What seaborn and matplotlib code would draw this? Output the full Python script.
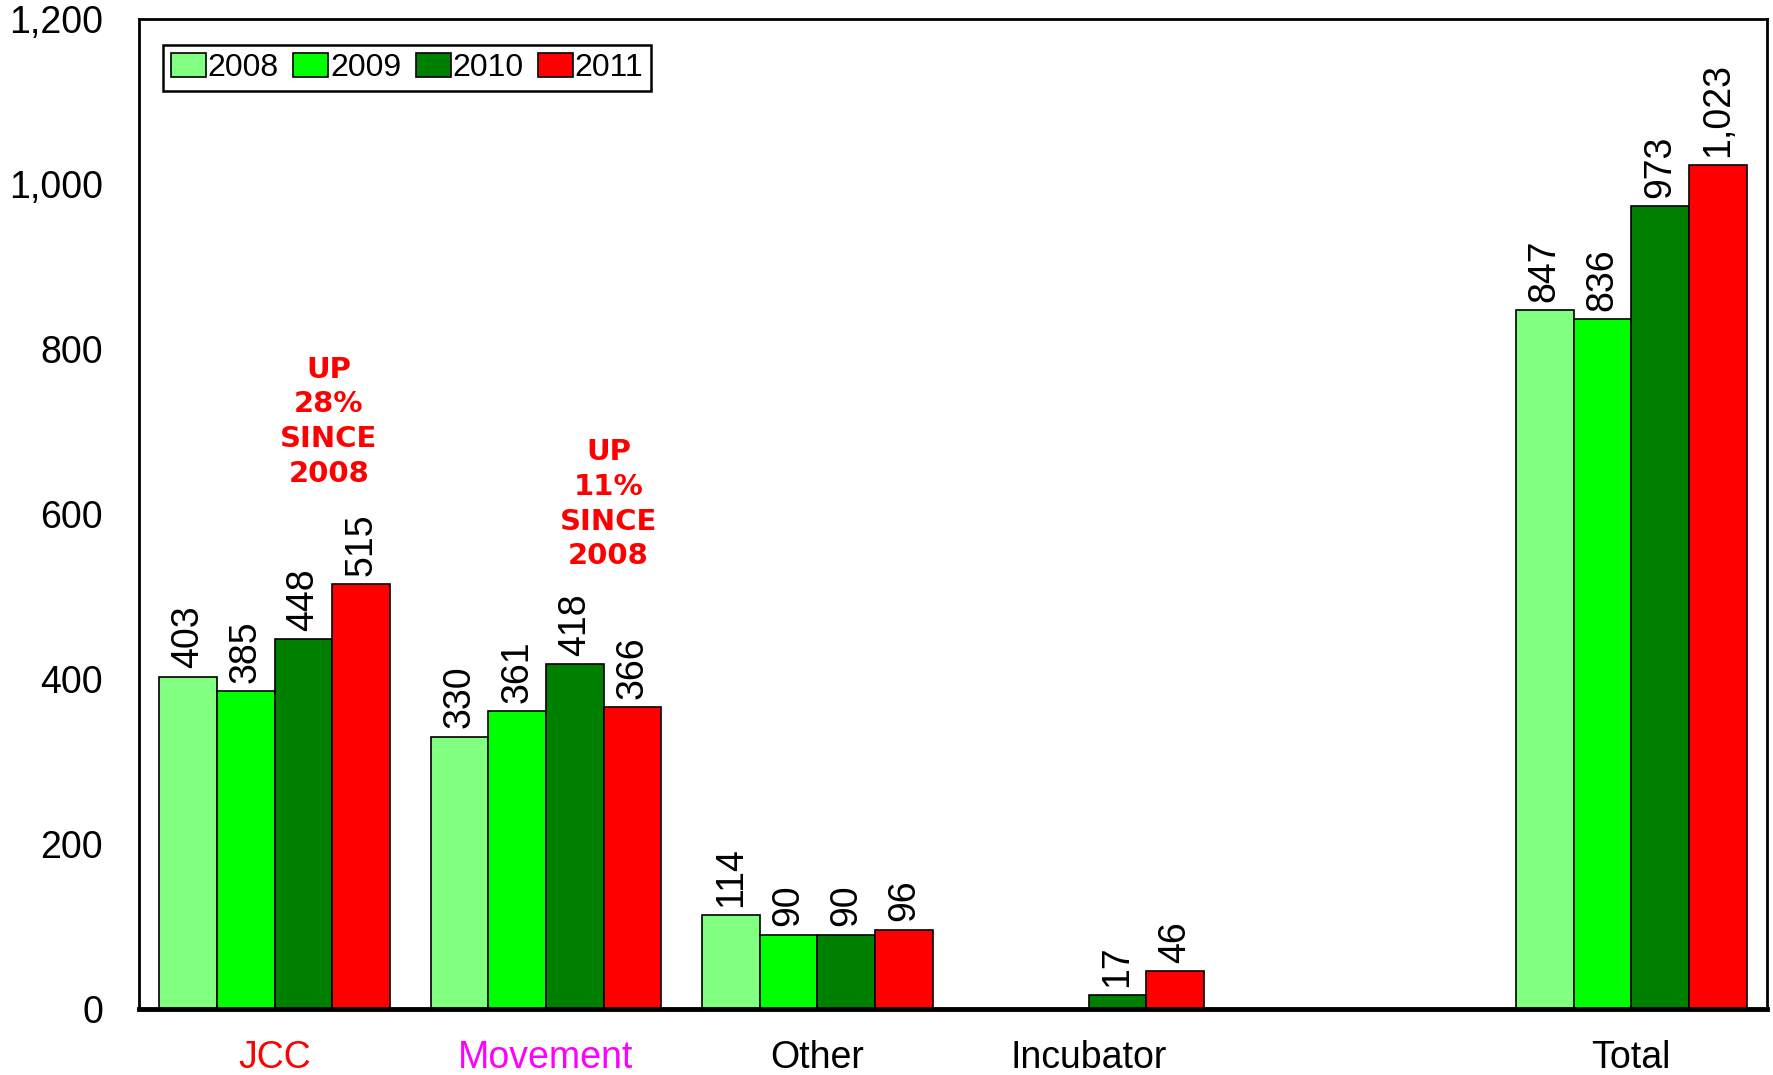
import numpy as np
import pandas as pd
import matplotlib
matplotlib.use("Agg")
import matplotlib.pyplot as plt
import seaborn as sns

categories = ["JCC", "Movement", "Other", "Incubator", " ", "Total"]
years = ["2008", "2009", "2010", "2011"]
values_2008 = [403, 330, 114, np.nan, np.nan, 847]
values_2009 = [385, 361, 90, np.nan, np.nan, 836]
values_2010 = [448, 418, 90, 17, np.nan, 973]
values_2011 = [515, 366, 96, 46, np.nan, 1023]
colors = ["#80FF80", "#00FF00", "#008000", "#FF0000"]
label_colors = ["#FF0000", "#FF00FF", "black", "black", "black", "black"]

rows = []
for year, vals in zip(years, [values_2008, values_2009, values_2010, values_2011]):
    for cat, v in zip(categories, vals):
        rows.append({"category": cat, "year": year, "count": v})
df = pd.DataFrame(rows).dropna()

sns.set_style("white")
plt.rcParams["font.family"] = ["Liberation Sans", "DejaVu Sans"]
plt.rcParams["text.color"] = "black"
plt.rcParams["xtick.color"] = "black"
plt.rcParams["ytick.color"] = "black"

fig = plt.figure(figsize=(17.73, 10.75), dpi=100)
ax = fig.add_axes([0.0784, 0.0614, 0.9182, 0.9209])

sns.barplot(data=df, x="category", y="count", hue="year", order=categories,
            hue_order=years, palette=colors, width=0.85, gap=0,
            edgecolor="black", linewidth=1.2, saturation=1, ax=ax)

for cont in ax.containers:
    ax.bar_label(cont, labels=["{:,.0f}".format(b.get_height()) for b in cont],
                 rotation=90, padding=6, fontsize=27, color="black")

ax.set_ylim(0, 1200)
ax.set_xlim(-0.5, 5.5)
ax.set_yticks(range(0, 1201, 200))
ax.set_yticklabels(["{:,}".format(v) for v in range(0, 1201, 200)], fontsize=27)
ax.set_xticks(range(len(categories)))
ax.set_xticklabels(categories, fontsize=27)
for lbl, c in zip(ax.get_xticklabels(), label_colors):
    lbl.set_color(c)
ax.tick_params(axis="both", length=0)
ax.tick_params(axis="y", pad=26)
ax.tick_params(axis="x", pad=22)
ax.set_xlabel("")
ax.set_ylabel("")

for side in ["left", "top", "right"]:
    ax.spines[side].set_linewidth(2)
    ax.spines[side].set_color("black")
ax.spines["bottom"].set_linewidth(3.5)
ax.spines["bottom"].set_color("black")

# red call-outs
note_kw = dict(color="#FF0000", fontsize=21, fontweight="bold", ha="center",
               va="bottom", linespacing=1.3, family="DejaVu Sans")
ax.text(0.2, 632, "UP\n28%\nSINCE\n2008", **note_kw)
ax.text(1.23, 532, "UP\n11%\nSINCE\n2008", **note_kw)
ax.text(5.17, 1216, "UP\n21%\nSINCE\n2008", clip_on=False, **note_kw)

leg = ax.legend(loc="upper left", ncol=4, fontsize=23, frameon=True,
                fancybox=False, edgecolor="black", handlelength=1.1,
                handleheight=0.8, handletextpad=0.05, columnspacing=0.45,
                borderpad=0.25, bbox_to_anchor=(0.005, 0.99))
leg.get_frame().set_linewidth(1.8)
leg.get_frame().set_alpha(1)
for t in leg.get_texts():
    t.set_color("black")

fig.savefig("out.png", dpi=100)
